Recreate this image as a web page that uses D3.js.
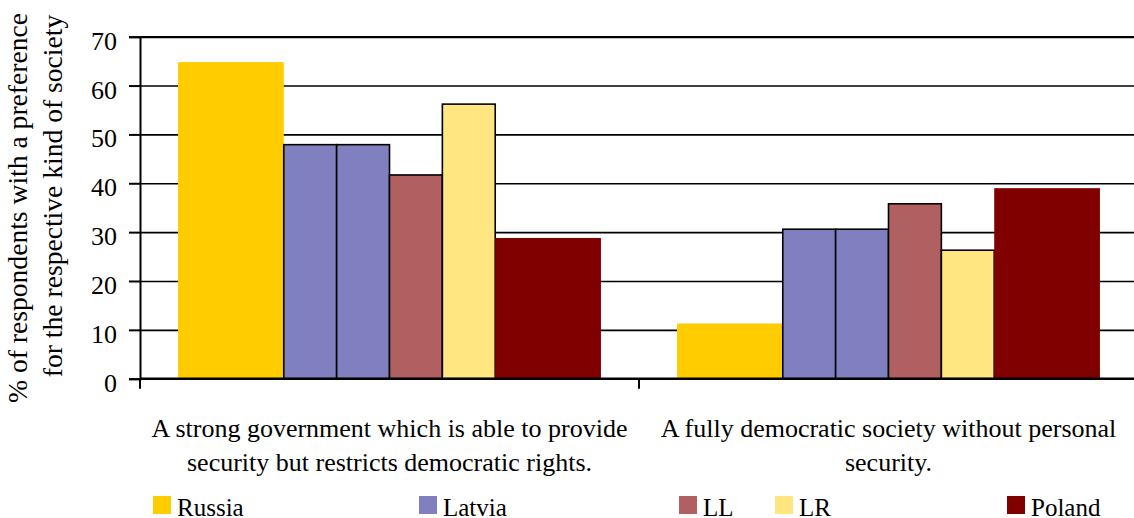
<!DOCTYPE html>
<html>
<head>
<meta charset="utf-8">
<script src="https://cdn.jsdelivr.net/npm/d3@7"></script>
<style>
  body { margin: 0; background: #fff; }
  svg text { font-family: "Liberation Serif", "DejaVu Serif", serif; fill: #000; }
</style>
</head>
<body>
<div id="chart"></div>
<script>
// categories (each label is wrapped onto two lines like the original)
const categories = ["strong", "democratic"]
const categoryLines = [
  ["A strong government which is able to provide", "security but restricts democratic rights."],
  ["A fully democratic society without personal", "security."]
]

// one bar per entry; Latvia shows up twice in the source chart
const seriesNames = ["Russia", "Latvia", "Latvia", "LL", "LR", "Poland"]
const strongGov = [64.8, 47.9, 47.9, 41.7, 56.2, 28.8]
const democratic = [11.3, 30.6, 30.6, 35.8, 26.3, 39.0]

const legendLabels = ["Russia", "Latvia", "LL", "LR", "Poland"]
const yTicks = [0, 10, 20, 30, 40, 50, 60, 70]
const yTitle = ["% of respondents with a preference", "for the respective kind of society"]

// styling / layout
const FONT = '"Liberation Serif", "DejaVu Serif", serif'
const colors = { Russia: "#FFCC00", Latvia: "#8080C0", LL: "#B06060", LR: "#FFE680", Poland: "#800000" }
const outlined = { Russia: false, Latvia: true, LL: true, LR: true, Poland: false }
const slotSpan = [2, 1, 1, 1, 1, 2]   // Russia and Poland bars are twice as wide
const legendX = [153, 419, 679, 775, 1007]

var width = 1134, height = 518
var plotLeft = 140, plotRight = 1138, plotTop = 36.7, plotBottom = 378.7

var svg = d3.select("#chart").append("svg")
    .attr("width", width)
    .attr("height", height)

var y = d3.scaleLinear().domain([0, 70]).range([plotBottom, plotTop])

var x0 = d3.scaleBand().domain(categories).range([plotLeft, plotRight]).padding(0)
var nSlots = d3.sum(slotSpan)
var x1 = d3.scaleBand().domain(d3.range(nSlots)).range([0, x0.bandwidth()])
    .paddingInner(0).paddingOuter(0.72)

// gridlines
svg.append("g")
    .attr("transform", "translate(" + plotLeft + ",0)")
    .call(d3.axisLeft(y).tickValues(yTicks.filter(d => d > 0)).tickSize(-(plotRight - plotLeft)).tickFormat(""))
    .call(g => g.select(".domain").remove())
    .selectAll("line")
    .attr("stroke", "#000")
    .attr("stroke-width", d => d == 70 ? 2.2 : 1.6)

// bars
var values = [strongGov, democratic]
var bars = []
categories.forEach((c, ci) => {
  var slot = 0
  seriesNames.forEach((s, si) => {
    bars.push({ cat: c, name: s, value: values[ci][si], start: slot, span: slotSpan[si] })
    slot += slotSpan[si]
  })
})

svg.append("g").selectAll("rect")
  .data(bars)
  .enter()
  .append("rect")
    .attr("x", d => x0(d.cat) + x1(d.start))
    .attr("width", d => x1.step() * d.span)
    .attr("y", d => y(d.value))
    .attr("height", d => y(0) - y(d.value))
    .attr("fill", d => colors[d.name])
    .attr("stroke", d => outlined[d.name] ? "#000" : "none")
    .attr("stroke-width", 1.6)

// y axis
var yAxis = svg.append("g")
    .attr("transform", "translate(" + plotLeft + ",0)")
    .call(d3.axisLeft(y).tickValues(yTicks).tickSize(11).tickPadding(12))
yAxis.select(".domain").attr("stroke", "#000").attr("stroke-width", 2)
yAxis.selectAll("line").attr("stroke", "#000").attr("stroke-width", 2)
yAxis.selectAll("text")
    .attr("font-family", FONT)
    .style("font-family", FONT)
    .style("font-size", "26px")
    .attr("dy", "0.48em")

// x axis line and category boundary ticks
svg.append("line")
    .attr("x1", plotLeft).attr("x2", plotRight)
    .attr("y1", y(0)).attr("y2", y(0))
    .attr("stroke", "#000").attr("stroke-width", 2.4)

var bounds = [x0.range()[0]].concat(categories.map(c => x0(c) + x0.bandwidth()))
svg.append("g").selectAll("line")
  .data(bounds)
  .enter()
  .append("line")
    .attr("x1", d => d).attr("x2", d => d)
    .attr("y1", y(0)).attr("y2", y(0) + 10)
    .attr("stroke", "#000").attr("stroke-width", 2)

// category labels
categories.forEach((c, ci) => {
  svg.append("text")
    .attr("x", x0(c) + x0.bandwidth() / 2)
    .attr("text-anchor", "middle")
    .style("font-family", FONT)
    .style("font-size", "26px")
    .selectAll("tspan")
    .data(categoryLines[ci])
    .enter()
    .append("tspan")
      .attr("x", x0(c) + x0.bandwidth() / 2)
      .attr("y", (d, i) => 436.5 + i * 34)
      .text(d => d)
})

// y title, two lines
var titlePos = [[27, 208], [62, 196]]
yTitle.forEach((t, i) => {
  svg.append("text")
    .attr("transform", "translate(" + titlePos[i][0] + "," + titlePos[i][1] + ") rotate(-90)")
    .attr("text-anchor", "middle")
    .style("font-family", FONT)
    .style("font-size", "27.6px")
    .text(t)
})

// legend
var legend = svg.append("g").selectAll("g")
  .data(legendLabels)
  .enter()
  .append("g")
    .attr("transform", (d, i) => "translate(" + legendX[i] + ",496)")
legend.append("rect")
    .attr("width", 18).attr("height", 18)
    .attr("fill", d => colors[d])
legend.append("text")
    .attr("x", 24).attr("y", 19.5)
    .style("font-family", FONT)
    .style("font-size", "25px")
    .text(d => d)
</script>
</body>
</html>
